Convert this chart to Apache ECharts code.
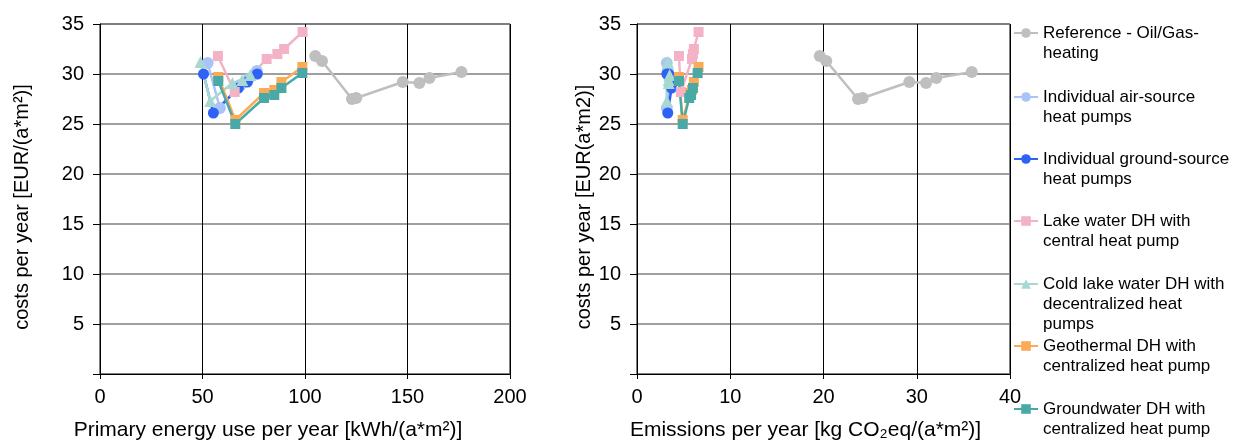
<!DOCTYPE html>
<html><head><meta charset="utf-8">
<script src="https://cdn.jsdelivr.net/npm/echarts@6/dist/echarts.min.js"></script>
<style>html,body{margin:0;padding:0;background:#fff}#c{width:1240px;height:441px}</style>
</head><body><div id="c"></div>
<script>
const FONT = '"Liberation Sans", Arial, sans-serif';

// ---- series names / legend labels ----
const seriesNames = [
  'Reference - Oil/Gas-heating',
  'Individual air-source heat pumps',
  'Individual ground-source heat pumps',
  'Lake water DH with central heat pump',
  'Cold lake water DH with decentralized heat pumps',
  'Geothermal DH with centralized heat pump',
  'Groundwater DH with centralized heat pump'
];
const legendLines = [
  ['Reference - Oil/Gas-', 'heating'],
  ['Individual air-source', 'heat pumps'],
  ['Individual ground-source', 'heat pumps'],
  ['Lake water DH with', 'central heat pump'],
  ['Cold lake water DH with', 'decentralized heat', 'pumps'],
  ['Geothermal DH with', 'centralized heat pump'],
  ['Groundwater DH with', 'centralized heat pump']
];

// ---- data: cost [EUR/(a*m2)], primary energy [kWh/(a*m2)], emissions [kg CO2eq/(a*m2)] ----
const refCost   = [31.8, 31.3, 27.5, 27.6, 29.2, 29.1, 29.6, 30.2];
const refEnergy = [105.0, 108.3, 122.9, 125.0, 147.7, 155.8, 160.7, 176.3];
const refEmis   = [19.6, 20.3, 23.7, 24.2, 29.2, 31.0, 32.1, 35.9];

const airCost   = [31.1, 26.6, 28.9, 29.5, 30.3];
const airEnergy = [52.5, 58.5, 68.5, 72.5, 76.5];
const airEmis   = [3.2, 3.2, 3.6, 3.5, 3.3];

const gsCost    = [30.0, 26.1, 28.6, 29.2, 30.0];
const gsEnergy  = [50.5, 55.3, 67.5, 71.9, 76.7];
const gsEmis    = [3.2, 3.3, 3.7, 3.6, 3.4];

const lakeCost   = [31.8, 28.2, 31.5, 32.0, 32.5, 34.2];
const lakeEnergy = [57.5, 65.7, 81.3, 86.5, 89.8, 98.8];
const lakeEmis   = [4.5, 4.7, 5.9, 6.0, 6.1, 6.6];

const coldCost   = [31.2, 27.3, 29.1, 29.4, 29.9];
const coldEnergy = [49.0, 53.8, 64.6, 69.4, 73.3];
const coldEmis   = [3.3, 3.2, 3.4, 3.4, 3.5];

const geoCost   = [29.7, 25.4, 28.1, 28.4, 29.2, 30.7];
const geoEnergy = [57.7, 66.0, 80.0, 85.0, 88.5, 98.7];
const geoEmis   = [4.5, 4.9, 5.7, 5.9, 6.1, 6.6];

const gwCost    = [29.3, 25.0, 27.6, 27.9, 28.6, 30.1];
const gwEnergy  = [57.7, 66.0, 80.0, 85.0, 88.5, 98.7];
const gwEmis    = [4.5, 4.9, 5.6, 5.8, 6.0, 6.5];

// ---- axis tick settings ----
const yTicks = {min: 0, max: 35, interval: 5};
const xEnergyTicks = {min: 0, max: 200, interval: 50};
const xEmisTicks = {min: 0, max: 40, interval: 10};

const xNames = ['Primary energy use per year [kWh/(a*m²)]', 'Emissions per year [kg CO₂eq/(a*m²)]'];
const yNames = ['costs per year [EUR/(a*m²)]', 'costs per year [EUR(a*m2)]'];

// ---- styles ----
const styles = [
  {color: '#bfbfbf', symbol: 'circle', size: 12},
  {color: '#aac4f8', symbol: 'circle', size: 12},
  {color: '#2e62f4', symbol: 'circle', size: 11},
  {color: '#f4b2c6', symbol: 'rect', size: 10},
  {color: '#a8d8d2', symbol: 'triangle', size: 12},
  {color: '#fbab55', symbol: 'rect', size: 10},
  {color: '#4aa9a6', symbol: 'rect', size: 10}
];
const legendIconY = [33, 97, 159, 221, 284, 346, 409];

const costs = [refCost, airCost, gsCost, lakeCost, coldCost, geoCost, gwCost];
const energies = [refEnergy, airEnergy, gsEnergy, lakeEnergy, coldEnergy, geoEnergy, gwEnergy];
const emissions = [refEmis, airEmis, gsEmis, lakeEmis, coldEmis, geoEmis, gwEmis];

const series = [];
seriesNames.forEach((n, i) => {
  const st = styles[i];
  [energies[i], emissions[i]].forEach((xs, g) => {
    series.push({
      name: n, type: 'line', xAxisIndex: g, yAxisIndex: g,
      data: xs.map((x, k) => [x, costs[i][k]]),
      symbol: st.symbol, symbolSize: st.size,
      itemStyle: {color: st.color},
      lineStyle: {color: st.color, width: 2.5},
      emphasis: {disabled: true}, animation: false
    });
  });
});

// one legend per entry so that the marker sits on the first text line
const LH = 20;
const legends = seriesNames.map((n, i) => {
  const lines = legendLines[i];
  const blanks = lines.length - 1;
  const txt = '\n'.repeat(blanks) + lines.join('\n');
  const total = blanks + lines.length;
  return {
    orient: 'vertical', left: 1013, top: legendIconY[i] - total * LH / 2,
    padding: 0, itemWidth: 24, itemHeight: 12,
    textStyle: {fontSize: 17, lineHeight: LH, color: '#000', fontFamily: FONT},
    formatter: () => txt,
    data: [n], selectedMode: false
  };
});

function xAxis(idx, ticks, name, pad) {
  return Object.assign({
    type: 'value', gridIndex: idx, name: name, nameLocation: 'middle', nameGap: 46,
    nameTextStyle: {fontSize: 21, color: '#000', fontFamily: FONT, padding: pad},
    axisLine: {show: true, lineStyle: {color: '#000', width: 1}},
    axisTick: {show: true, length: 5, lineStyle: {color: '#000'}},
    axisLabel: {fontSize: 20, color: '#000', fontFamily: FONT, margin: 13},
    splitLine: {show: true, lineStyle: {color: '#000', width: 1}}
  }, ticks);
}
function yAxis(idx, name, gap) {
  return Object.assign({
    type: 'value', gridIndex: idx, name: name, nameLocation: 'middle', nameGap: gap,
    nameTextStyle: {fontSize: 20, color: '#000', fontFamily: FONT, padding: [0, 16, 0, 0]},
    axisLine: {show: true, lineStyle: {color: '#000', width: 1}},
    axisTick: {show: true, length: 7, lineStyle: {color: '#000'}},
    axisLabel: {fontSize: 20, color: '#000', fontFamily: FONT, margin: 16,
      formatter: v => (v === 0 ? '' : String(v))},
    splitLine: {show: true, lineStyle: {color: '#7f7f7f', width: 1.5}}
  }, yTicks);
}

const gridBase = {top: 24, bottom: 67, show: true, borderColor: '#000', borderWidth: 1,
  backgroundColor: 'transparent', containLabel: false, outerBoundsMode: 'none'};
const option = {
  animation: false,
  backgroundColor: '#fff',
  textStyle: {fontFamily: FONT},
  grid: [
    Object.assign({left: 100, right: 730}, gridBase),
    Object.assign({left: 637, right: 230}, gridBase)
  ],
  xAxis: [xAxis(0, xEnergyTicks, xNames[0], [0, 74, 0, 0]), xAxis(1, xEmisTicks, xNames[1], [0, 36, 0, 0])],
  yAxis: [yAxis(0, yNames[0], 68), yAxis(1, yNames[1], 27)],
  legend: legends,
  series: series
};
echarts.init(document.getElementById('c'), null, {renderer: 'canvas'}).setOption(option);
</script>
</body></html>
